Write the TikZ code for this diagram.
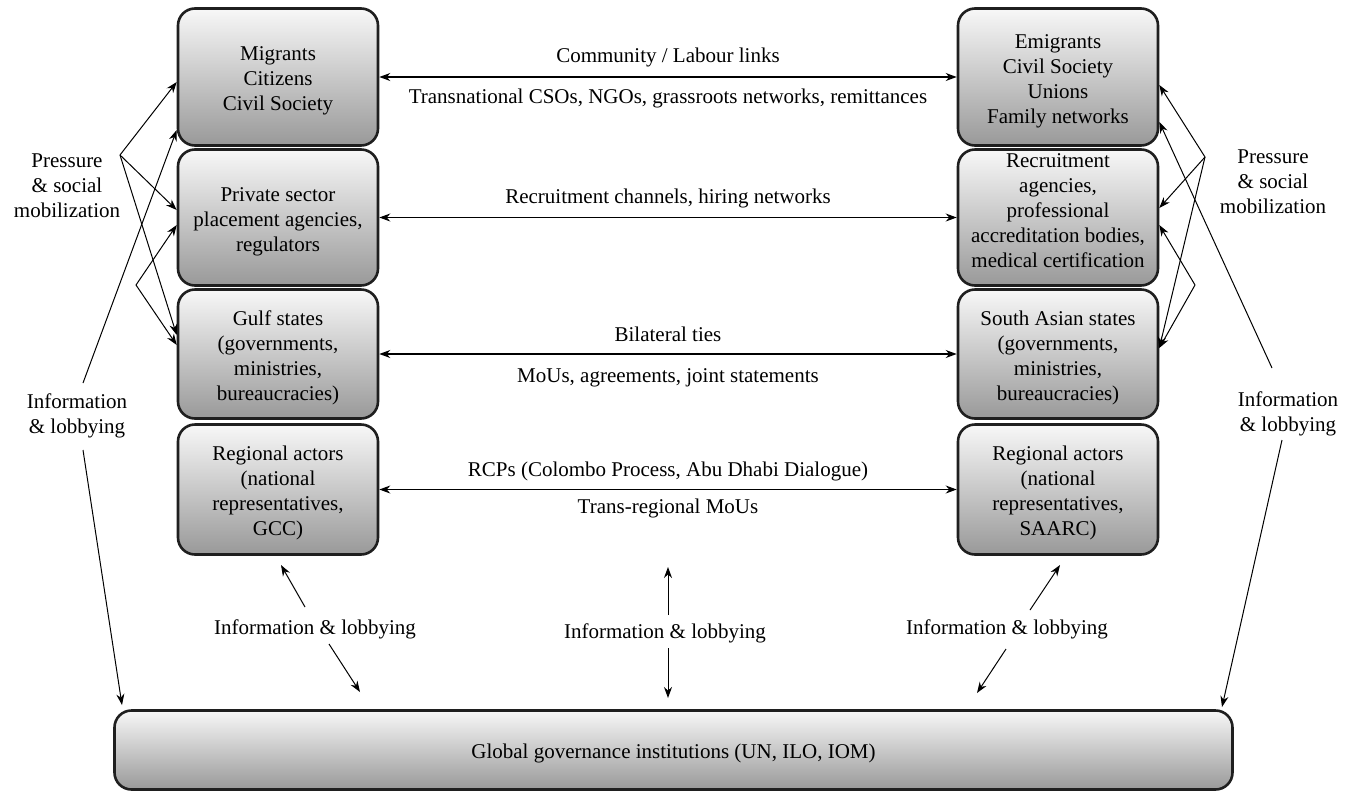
\documentclass[tikz,border=0pt]{standalone}
\usepackage{fontspec}
\setmainfont{Liberation Serif}
\usetikzlibrary{arrows.meta}
\newcommand\topgap{\rule{0pt}{22pt}}
\begin{document}
\begin{tikzpicture}[x=1pt,y=-1pt,
  box/.style={draw=black!88, line width=2.6pt, rounded corners=17pt,
    top color=black!3, bottom color=black!40, align=center,
    font=\rmfamily\fontsize{21}{25}\selectfont, inner sep=0pt},
  boxu/.style={box, execute at end node={\rule[-14pt]{0pt}{14pt}}},
  lbl/.style={align=center, font=\rmfamily\fontsize{21}{25}\selectfont, inner sep=0pt},
  arr/.style={line width=1pt, -{Stealth[length=11pt,width=8pt]}},
  harr/.style={line width=1.3pt, {Stealth[length=11pt,width=8pt]}-{Stealth[length=11pt,width=8pt]}}]
\useasboundingbox (0,0) rectangle (1349,793);

% left column
\node[box, minimum width=200pt, minimum height=137pt] (L1) at (278,77) {\topgap Migrants\\Citizens\\Civil Society};
\node[box, minimum width=200pt, minimum height=136pt] (L2) at (278,217.5) {\topgap Private sector\\placement agencies,\\regulators};
\node[box, minimum width=200pt, minimum height=129pt] (L3) at (278,354) {\topgap Gulf states\\(governments,\\ministries,\\bureaucracies)};
\node[box, minimum width=200pt, minimum height=130pt] (L4) at (278,489.5) {\topgap Regional actors\\(national\\representatives,\\GCC)};

% right column
\node[box, minimum width=200pt, minimum height=137pt] (R1) at (1058,77) {\topgap Emigrants\\Civil Society\\Unions\\Family networks};
\node[boxu, minimum width=200pt, minimum height=136pt] (R2) at (1058,217.5) {Recruitment\\agencies,\\professional\\accreditation bodies,\\medical certification};
\node[box, minimum width=200pt, minimum height=129pt] (R3) at (1058,354) {\topgap South Asian states\\(governments,\\ministries,\\bureaucracies)};
\node[box, minimum width=200pt, minimum height=130pt] (R4) at (1058,489.5) {\topgap Regional actors\\(national\\representatives,\\SAARC)};

% global box
\node[box, minimum width=1118pt, minimum height=79pt] (G) at (673.5,750) {\topgap Global governance institutions (UN, ILO, IOM)};

% horizontal links
\draw[harr] (L1.east) -- (R1.west);
\draw[harr] (L2.east) -- (R2.west);
\draw[harr] (L3.east) -- (R3.west);
\draw[harr] (L4.east) -- (R4.west);

\node[lbl] (t1a) at (668,57) {Community / Labour links};
\node[lbl] (t1b) at (668,98) {Transnational CSOs, NGOs, grassroots networks, remittances};
\node[lbl] (t2) at (668,198) {Recruitment channels, hiring networks};
\node[lbl] (t3a) at (668,334) {Bilateral ties};
\node[lbl] (t3b) at (668,378) {MoUs, agreements, joint statements};
\node[lbl] (t4a) at (668,471) {RCPs (Colombo Process, Abu Dhabi Dialogue)};
\node[lbl] (t4b) at (668,508) {Trans-regional MoUs};

% side labels
\node[lbl] (pl) at (67,186) {Pressure\\\& social\\mobilization};
\node[lbl] (il) at (77,416) {Information\\\& lobbying};
\node[lbl] (pr) at (1273,182) {Pressure\\\& social\\mobilization};
\node[lbl] (ir) at (1288,414) {Information\\\& lobbying};

% left pressure arrows
\coordinate (pl1) at (120,155);
\coordinate (pl2) at (136,285);
\draw[arr] (pl1) -- (L1.west |- 0,82);
\draw[arr] (pl1) -- (L2.west |- 0,210);
\draw[arr] (pl1) -- (L3.west |- 0,335);
\draw[arr] (pl2) -- (L2.west |- 0,225);
\draw[arr] (pl2) -- (L3.west |- 0,345);

% left information arrows
\coordinate (il1) at (83,383);
\coordinate (il2) at (83,450);
\coordinate (g1) at (122,705);
\draw[arr] (il1) -- (L1.west |- 0,130);
\draw[arr] (il2) -- (g1);

% right pressure arrows
\coordinate (pr1) at (1205,157);
\coordinate (pr2) at (1195,285);
\draw[arr] (pr1) -- (R1.east |- 0,85);
\draw[arr] (pr1) -- (R2.east |- 0,208);
\draw[arr] (pr1) -- (R3.east |- 0,348);
\draw[arr] (pr2) -- (R2.east |- 0,225);
\draw[arr] (pr2) -- (R3.east |- 0,348);

% right information arrows
\coordinate (ir1) at (1272,368);
\coordinate (ir2) at (1282,440);
\coordinate (g2) at (1222,707);
\draw[arr] (ir1) -- (R1.east |- 0,122);
\draw[arr] (ir2) -- (g2);

% bottom labels and arrows
\node[lbl] (bl) at (315,629) {Information \& lobbying};
\node[lbl] (bc) at (665,633) {Information \& lobbying};
\node[lbl] (br) at (1007,629) {Information \& lobbying};

\coordinate (bl1) at (305,607); \coordinate (bl2) at (281,565);
\coordinate (bl3) at (329,644); \coordinate (bl4) at (360,692);
\draw[arr] (bl1) -- (bl2);
\draw[arr] (bl3) -- (bl4);

\coordinate (bc1) at (668,615); \coordinate (bc2) at (668,567);
\coordinate (bc3) at (668,648); \coordinate (bc4) at (668,698);
\draw[arr] (bc1) -- (bc2);
\draw[arr] (bc3) -- (bc4);

\coordinate (br1) at (1030,610); \coordinate (br2) at (1060,565);
\coordinate (br3) at (1006,649); \coordinate (br4) at (977,693);
\draw[arr] (br1) -- (br2);
\draw[arr] (br3) -- (br4);
\end{tikzpicture}
\end{document}
